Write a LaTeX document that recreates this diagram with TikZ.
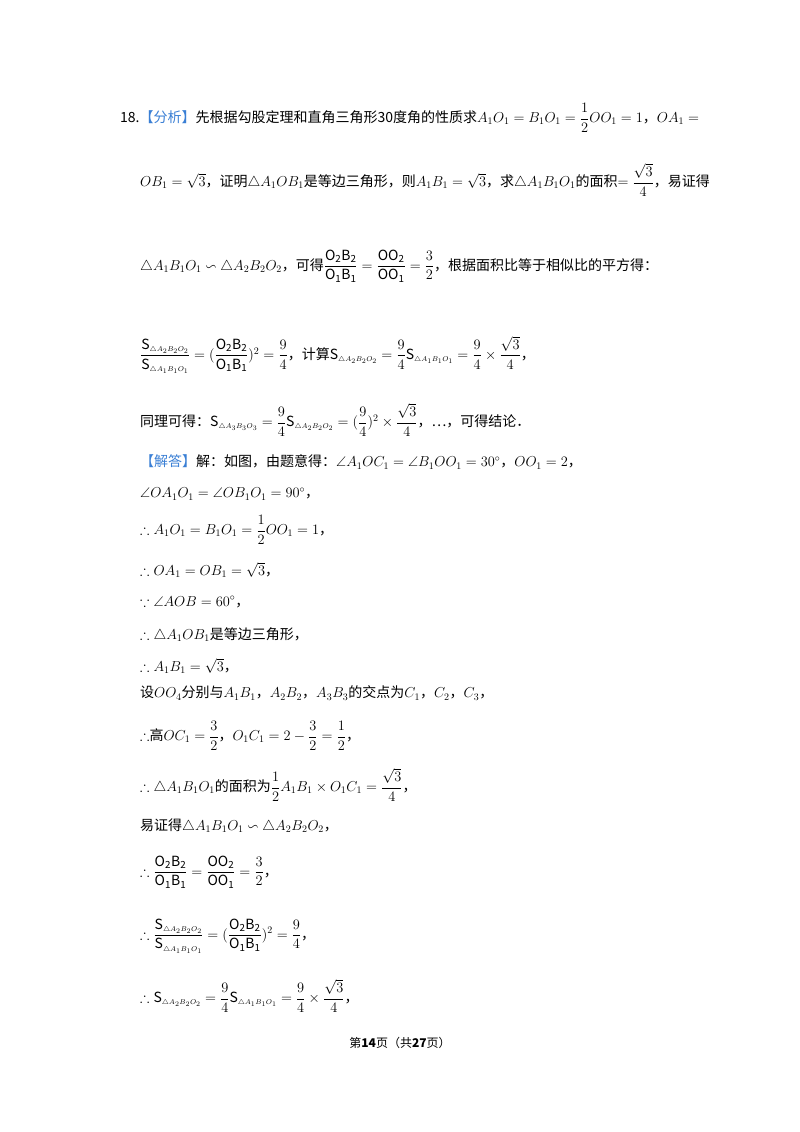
\documentclass[tikz,border=0pt]{standalone}
\usepackage{amsmath,amssymb}
\usepackage{fontspec}
\setmainfont{Noto Sans CJK SC}
\newcommand{\tri}{\triangle}
\newcommand{\Sx}[1]{\mathrm{S}_{\scriptscriptstyle\triangle #1}}
\begin{document}
\begin{tikzpicture}[x=1pt,y=1pt,
  ln/.style={anchor=west,inner sep=0pt,font=\fontsize{14}{16}\selectfont}]
\useasboundingbox[fill=white] (0,0) rectangle (800,-1132);
\node[ln] (l1) at (120,-118) {18.\textcolor[HTML]{3A7FD5}{【分析】}先根据勾股定理和直角三角形30度角的性质求$A_1O_1=B_1O_1=\dfrac12 OO_1=1$，$OA_1=$};
\node[ln] (l2) at (140,-180) {$OB_1=\sqrt3$，证明$\tri A_1OB_1$是等边三角形，则$A_1B_1=\sqrt3$，求$\tri A_1B_1O_1$的面积$=\dfrac{\sqrt3}{4}$，易证得};
\node[ln] (l3) at (140,-266) {$\tri A_1B_1O_1\backsim\tri A_2B_2O_2$，可得$\dfrac{\mathrm{O_2B_2}}{\mathrm{O_1B_1}}=\dfrac{\mathrm{OO_2}}{\mathrm{OO_1}}=\dfrac32$，根据面积比等于相似比的平方得：};
\node[ln] (l4) at (140,-355) {$\dfrac{\Sx{A_2B_2O_2}}{\Sx{A_1B_1O_1}}=(\dfrac{\mathrm{O_2B_2}}{\mathrm{O_1B_1}})^2=\dfrac94$，计算$\Sx{A_2B_2O_2}=\dfrac94\Sx{A_1B_1O_1}=\dfrac94\times\dfrac{\sqrt3}{4}$，};
\node[ln] (l5) at (140,-420) {同理可得：$\Sx{A_3B_3O_3}=\dfrac94\Sx{A_2B_2O_2}=(\dfrac94)^2\times\dfrac{\sqrt3}{4}$，…，可得结论．};
\node[ln] (l6) at (140,-462) {\textcolor[HTML]{3A7FD5}{【解答】}解：如图，由题意得：$\angle A_1OC_1=\angle B_1OO_1=30^\circ$，$OO_1=2$，};
\node[ln] (l7) at (140,-494) {$\angle OA_1O_1=\angle OB_1O_1=90^\circ$，};
\node[ln] (l8) at (140,-530) {$\therefore A_1O_1=B_1O_1=\dfrac12 OO_1=1$，};
\node[ln] (l9) at (140,-570) {$\therefore OA_1=OB_1=\sqrt3$，};
\node[ln] (l10) at (140,-602) {$\because\angle AOB=60^\circ$，};
\node[ln] (l11) at (140,-635) {$\therefore\tri A_1OB_1$是等边三角形，};
\node[ln] (l12) at (140,-666) {$\therefore A_1B_1=\sqrt3$，};
\node[ln] (l13) at (140,-693) {设$OO_4$分别与$A_1B_1$，$A_2B_2$，$A_3B_3$的交点为$C_1$，$C_2$，$C_3$，};
\node[ln] (l14) at (140,-736) {$\therefore$高$OC_1=\dfrac32$，$O_1C_1=2-\dfrac32=\dfrac12$，};
\node[ln] (l15) at (140,-785) {$\therefore\tri A_1B_1O_1$的面积为$\dfrac12A_1B_1\times O_1C_1=\dfrac{\sqrt3}{4}$，};
\node[ln] (l16) at (140,-826) {易证得$\tri A_1B_1O_1\backsim\tri A_2B_2O_2$，};
\node[ln] (l17) at (140,-872) {$\therefore\dfrac{\mathrm{O_2B_2}}{\mathrm{O_1B_1}}=\dfrac{\mathrm{OO_2}}{\mathrm{OO_1}}=\dfrac32$，};
\node[ln] (l18) at (140,-936) {$\therefore\dfrac{\Sx{A_2B_2O_2}}{\Sx{A_1B_1O_1}}=(\dfrac{\mathrm{O_2B_2}}{\mathrm{O_1B_1}})^2=\dfrac94$，};
\node[ln] (l19) at (140,-996) {$\therefore\Sx{A_2B_2O_2}=\dfrac94\Sx{A_1B_1O_1}=\dfrac94\times\dfrac{\sqrt3}{4}$，};
\node[anchor=center,inner sep=0pt,font=\fontsize{12}{14}\selectfont] (ft) at (400,-1043) {第\textbf{14}页（共\textbf{27}页）};
\end{tikzpicture}
\end{document}
